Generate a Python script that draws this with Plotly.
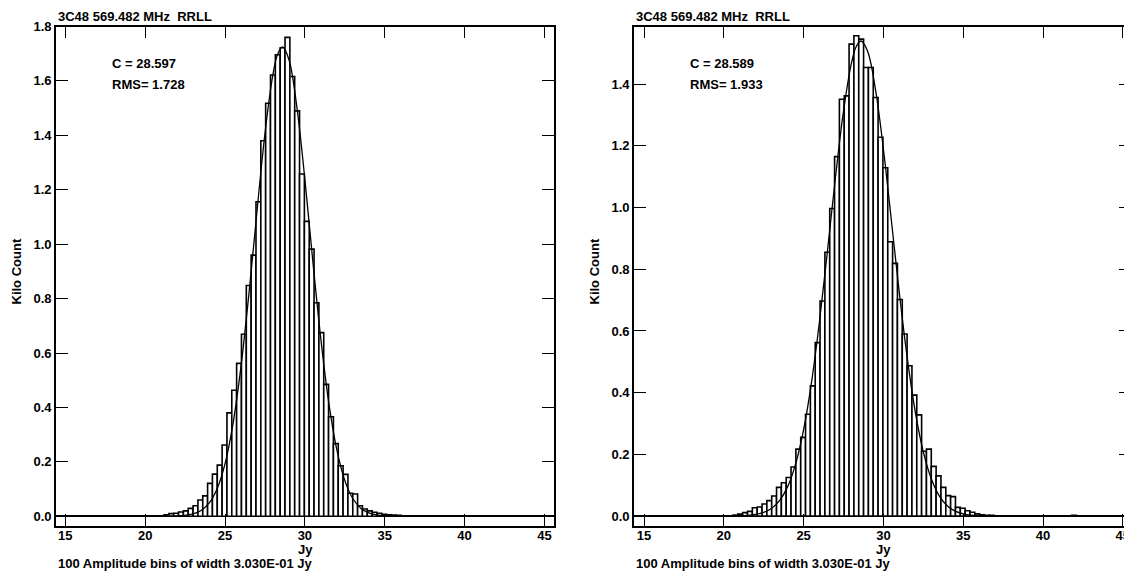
import plotly.graph_objects as go

W, H = 1124, 572

# ---------------- data ----------------
bin_start = 14.82          # left edge of first amplitude bin (Jy)
bin_width = 0.303          # 3.030E-01 Jy
n_bins = 100

# Kilo counts per bin, left panel (C = 28.597, RMS = 1.728)
left_counts = [0.0] * 21 + [
    0.006, 0.010, 0.011, 0.016, 0.020, 0.029, 0.039, 0.060, 0.075, 0.121,
    0.155, 0.188, 0.262, 0.380, 0.463, 0.562, 0.669, 0.848, 0.960, 1.156,
    1.380, 1.518, 1.622, 1.696, 1.722, 1.760, 1.616, 1.490, 1.258, 1.084,
    0.982, 0.785, 0.675, 0.485, 0.366, 0.267, 0.186, 0.154, 0.085, 0.082,
    0.039, 0.027, 0.020, 0.015, 0.011, 0.007, 0.006, 0.005, 0.004,
] + [0.0] * 30

# Kilo counts per bin, right panel (C = 28.589, RMS = 1.933)
right_counts = [0.0] * 19 + [
    0.003, 0.006, 0.011, 0.015, 0.027, 0.029, 0.039, 0.050, 0.065, 0.093,
    0.108, 0.125, 0.159, 0.217, 0.255, 0.330, 0.422, 0.562, 0.697, 0.855,
    0.997, 1.165, 1.351, 1.362, 1.530, 1.557, 1.546, 1.454, 1.454, 1.357,
    1.228, 1.129, 0.889, 0.819, 0.702, 0.590, 0.487, 0.392, 0.328, 0.210,
    0.217, 0.161, 0.130, 0.093, 0.066, 0.063, 0.028, 0.025, 0.017, 0.012,
    0.007, 0.004, 0.002, 0.002,
] + [0.0] * 16 + [0.002] + [0.0] * 10

# fitted curves
fit_x_left = [21.0, 21.5, 22.0, 22.5, 23.0, 23.5, 24.0, 24.5, 25.0, 25.5, 26.0,
              26.5, 27.0, 27.5, 28.0, 28.3, 28.6, 29.0, 29.5, 30.0, 30.5, 31.0,
              31.5, 32.0, 32.5, 33.0, 33.5, 34.0, 34.5, 35.0, 35.5, 36.0]
fit_y_left = [0.0001, 0.0003, 0.0011, 0.0032, 0.0086, 0.0213, 0.0483, 0.1007,
              0.193, 0.340, 0.550, 0.819, 1.119, 1.406, 1.623, 1.699, 1.725,
              1.679, 1.504, 1.239, 0.937, 0.652, 0.416, 0.245, 0.132, 0.0654,
              0.0298, 0.0125, 0.0048, 0.0017, 0.0006, 0.0002]

fit_x_right = [20.0, 20.5, 21.0, 21.5, 22.0, 22.5, 23.0, 23.5, 24.0, 24.5, 25.0,
               25.5, 26.0, 26.5, 27.0, 27.5, 28.0, 28.3, 28.6, 29.0, 29.5, 30.0,
               30.5, 31.0, 31.5, 32.0, 32.5, 33.0, 33.5, 34.0, 34.5, 35.0, 35.5,
               36.0, 36.5, 37.0]
fit_y_right = [0.0001, 0.0003, 0.0008, 0.0020, 0.0050, 0.0115, 0.0249, 0.0504,
               0.0953, 0.169, 0.280, 0.435, 0.633, 0.862, 1.100, 1.313, 1.469,
               1.522, 1.540, 1.508, 1.384, 1.190, 0.958, 0.722, 0.510, 0.337,
               0.208, 0.121, 0.0655, 0.0333, 0.0158, 0.0071, 0.0029, 0.0012,
               0.0004, 0.0001]

panel_title = "3C48 569.482 MHz  RRLL"
left_stats = ["C = 28.597", "RMS= 1.728"]
right_stats = ["C = 28.589", "RMS= 1.933"]
x_label = "Jy"
y_label = "Kilo Count"
footer = "100 Amplitude bins of width 3.030E-01 Jy"

# ---------------- figure ----------------
def fx(px):
    return px / W

def fy(py):
    return 1 - py / H

centers = [bin_start + (i + 0.5) * bin_width for i in range(n_bins)]

FONT = dict(family="Liberation Sans, Arial, sans-serif", size=13, color="black", weight="bold")
bar_marker = dict(color="white", line=dict(color="black", width=1.6))
fit_line = dict(color="black", width=1.3, shape="spline")

fig = go.Figure()
fig.add_trace(go.Bar(x=centers, y=left_counts, width=bin_width, marker=bar_marker,
                     xaxis="x", yaxis="y", hoverinfo="skip"))
fig.add_trace(go.Scatter(x=fit_x_left, y=fit_y_left, mode="lines", line=fit_line,
                         xaxis="x", yaxis="y", hoverinfo="skip"))
fig.add_trace(go.Bar(x=centers, y=right_counts, width=bin_width, marker=bar_marker,
                     xaxis="x2", yaxis="y2", hoverinfo="skip"))
fig.add_trace(go.Scatter(x=fit_x_right, y=fit_y_right, mode="lines", line=fit_line,
                         xaxis="x2", yaxis="y2", hoverinfo="skip"))
# carrier for the clipped right-edge ticks of the right panel
fig.add_trace(go.Scatter(x=[30], y=[0.5], mode="markers", marker=dict(opacity=0),
                         xaxis="x2", yaxis="y3", hoverinfo="skip"))

ydom = [fy(525.7), fy(26.5)]

xcommon = dict(showline=True, linecolor="black", linewidth=1.6, ticks="inside",
               ticklen=12, tickwidth=1.2, tickcolor="black", dtick=5, tick0=0,
               showgrid=False, zeroline=False, tickfont=FONT, ticklabeloverflow="allow",
               ticklabelstandoff=-3, automargin=False)
ycommon = dict(showline=True, linecolor="black", linewidth=1.6, ticks="inside",
               ticklen=12, tickwidth=1.2, tickcolor="black", dtick=0.2, tick0=0,
               tickformat=".1f", showgrid=False, zeroline=True, zerolinecolor="black",
               zerolinewidth=1.5, tickfont=FONT, domain=ydom, automargin=False)

fig.update_layout(
    width=W, height=H, autosize=False,
    margin=dict(l=0, r=0, t=0, b=0, pad=0, autoexpand=False),
    paper_bgcolor="white", plot_bgcolor="white",
    showlegend=False,
    xaxis=dict(xcommon, domain=[fx(56), fx(554)], range=[14.418, 45.60],
               mirror="ticks", anchor="y"),
    yaxis=dict(ycommon, range=[-0.0345, 1.8], mirror="ticks", anchor="x"),
    xaxis2=dict(xcommon, domain=[fx(634), 1.0], range=[14.373, 45.075],
                mirror="ticks", anchor="y2"),
    yaxis2=dict(ycommon, range=[-0.0314, 1.587], mirror=False, anchor="x2"),
    yaxis3=dict(overlaying="y2", anchor="x2", side="right", range=[-0.0314, 1.587],
                dtick=0.2, tick0=0, ticks="inside", ticklen=5, tickwidth=1.2,
                tickcolor="black", showticklabels=False, showline=False,
                showgrid=False, zeroline=False, automargin=False),
)

annotations = []
for left_px, stats in [(56, left_stats), (634, right_stats)]:
    annotations.append(dict(text=panel_title, x=fx(left_px), y=fy(16.5),
                            xanchor="left", yanchor="middle"))
    annotations.append(dict(text=stats[0], x=fx(left_px + 54), y=fy(63.7),
                            xanchor="left", yanchor="middle"))
    annotations.append(dict(text=stats[1], x=fx(left_px + 54), y=fy(84.5),
                            xanchor="left", yanchor="middle"))
    annotations.append(dict(text=footer, x=fx(left_px), y=fy(563),
                            xanchor="left", yanchor="middle"))
    annotations.append(dict(text=y_label, x=fx(left_px - 40.5), y=fy(272),
                            xanchor="center", yanchor="middle", textangle=-90))
annotations.append(dict(text=x_label, x=fx(305), y=fy(549), xanchor="center", yanchor="middle"))
annotations.append(dict(text=x_label, x=fx(883), y=fy(549), xanchor="center", yanchor="middle"))

for a in annotations:
    a.update(xref="paper", yref="paper", showarrow=False, font=FONT)
fig.update_layout(annotations=annotations)

page_fix = (
    "document.documentElement.style.margin='0px';"
    "document.documentElement.style.padding='0px';"
    "document.documentElement.style.overflow='hidden';"
    "document.body.style.margin='0px';"
    "document.body.style.padding='0px';"
    "document.body.style.overflow='hidden';"
)
fig.write_html("out.html", config={"displayModeBar": False}, post_script=page_fix)
